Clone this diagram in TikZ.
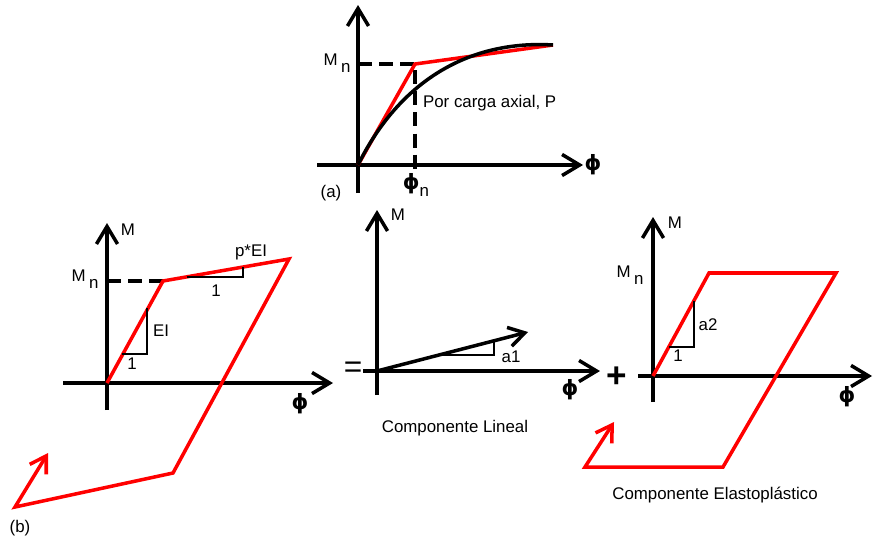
\documentclass[tikz,border=0pt]{standalone}
\usepackage{fontspec}
\setmainfont{Liberation Sans}
\newfontfamily\phifont{DejaVu Sans}
\usetikzlibrary{arrows.meta, positioning}
\tikzset{
    axis/.style={-{Straight Barb[length=10pt, width=12pt]}, line width=2pt, black},
    curveline/.style={line width=2pt, black},
    redline/.style={line width=2pt, red},
    redarrow/.style={-{Straight Barb[length=9pt, width=11pt]}, line width=2pt, red},
    blackarrow/.style={-{Straight Barb[length=9pt, width=11pt]}, line width=2pt, black},
    dashline/.style={line width=2pt, dash pattern=on 8pt off 4pt},
    slopetri/.style={line width=1.6pt, black},
    lbl/.style={font=\fontsize{9.6}{11}\selectfont, inner sep=1pt},
    philbl/.style={font=\phifont\bfseries\fontsize{12}{12}\selectfont, inner sep=0pt},
    opsign/.style={font=\bfseries\fontsize{20}{20}\selectfont, inner sep=0pt}
}
\newcommand{\phisym}{{\phifont\bfseries\fontsize{12}{12}\selectfont ϕ}}
\newcommand{\subn}{\hspace{2pt}\raisebox{-4pt}{n}}

\begin{document}
\begin{tikzpicture}[x=0.02cm, y=-0.02cm]
    \useasboundingbox (0,0) rectangle (874,541);
    % (a) curva momento-curvatura
    \coordinate (oa) at (358,165);
    \coordinate (ya) at (415,64);
    \coordinate (ea) at (553,45);
    \draw[axis] (358,193) -- (358,5);
    \draw[axis] (317,165) -- (583,165);
    \draw[dashline] (358,64) -- (ya) -- (415,170);
    \draw[redline] (oa) -- (ya) -- (ea);
    \draw[curveline] (oa) .. controls (400,80) and (470,40) .. (ea);
    \node[lbl] (mna) at (337,63) {M\subn};
    \node[philbl] (phia) at (593,165) {ϕ};
    \node[lbl] (phin) at (416,185) {\phisym\raisebox{-4pt}{n}};
    \node[lbl, anchor=west] (axial) at (421,103) {Por carga axial, P};
    \node[lbl] (laba) at (331,193) {(a)};

    % (b) modelo bilineal
    \coordinate (ob) at (107,383);
    \coordinate (yb) at (163,281);
    \coordinate (tb) at (289,259);
    \coordinate (bb) at (173,473);
    \coordinate (lb) at (15,507);
    \coordinate (hb) at (48,453);
    \draw[axis] (107,410) -- (107,223);
    \draw[axis] (63,383) -- (333,383);
    \draw[dashline] (107,281) -- (yb);
    \draw[redarrow] (ob) -- (yb) -- (tb) -- (bb) -- (lb) -- (hb);
    \draw[slopetri] (122,354) -- (147,354) -- (147,308);
    \draw[slopetri] (187,277) -- (243,277) -- (243,267);
    \node[lbl] (mb) at (128,230) {M};
    \node[lbl] (mnb) at (85,279) {M\subn};
    \node[lbl] (eib) at (161,331) {EI};
    \node[lbl] (unob) at (132,364) {1};
    \node[lbl] (peib) at (251,252) {p*EI};
    \node[lbl] (unop) at (216,291) {1};
    \node[philbl] (phib) at (300,404) {ϕ};
    \node[lbl] (labb) at (20,528) {(b)};

    % componente lineal
    \coordinate (oc) at (377,371);
    \coordinate (tc) at (528,332);
    \node[opsign, font=\fontsize{18}{18}\selectfont] (eqs) at (353,370) {=};
    \draw[axis] (377,395) -- (377,210);
    \draw[axis] (363,371) -- (600,371);
    \draw[blackarrow] (oc) -- (tc);
    \draw[slopetri] (437,355) -- (494,355) -- (494,341);
    \node[lbl] (mc) at (398,215) {M};
    \node[lbl] (a1) at (511,357) {a1};
    \node[philbl] (phic) at (570,390) {ϕ};
    \node[lbl] (lineal) at (455,428) {Componente Lineal};

    % componente elastoplastico
    \coordinate (od) at (653,376);
    \coordinate (yd) at (709,273);
    \coordinate (td) at (836,273);
    \coordinate (bd) at (723,467);
    \coordinate (ld) at (585,467);
    \coordinate (hd) at (614,422);
    \node[opsign] (plus) at (617,377) {+};
    \draw[axis] (653,402) -- (653,217);
    \draw[axis] (638,376) -- (872,376);
    \draw[redarrow] (od) -- (yd) -- (td) -- (bd) -- (ld) -- (hd);
    \draw[slopetri] (669,347) -- (694,347) -- (694,301);
    \node[lbl] (md) at (675,223) {M};
    \node[lbl] (mnd) at (630,275) {M\subn};
    \node[lbl] (a2) at (708,325) {a2};
    \node[lbl] (unod) at (678,356) {1};
    \node[philbl] (phid) at (847,397) {ϕ};
    \node[lbl] (elasto) at (715,495) {Componente Elastoplástico};
\end{tikzpicture}
\end{document}
